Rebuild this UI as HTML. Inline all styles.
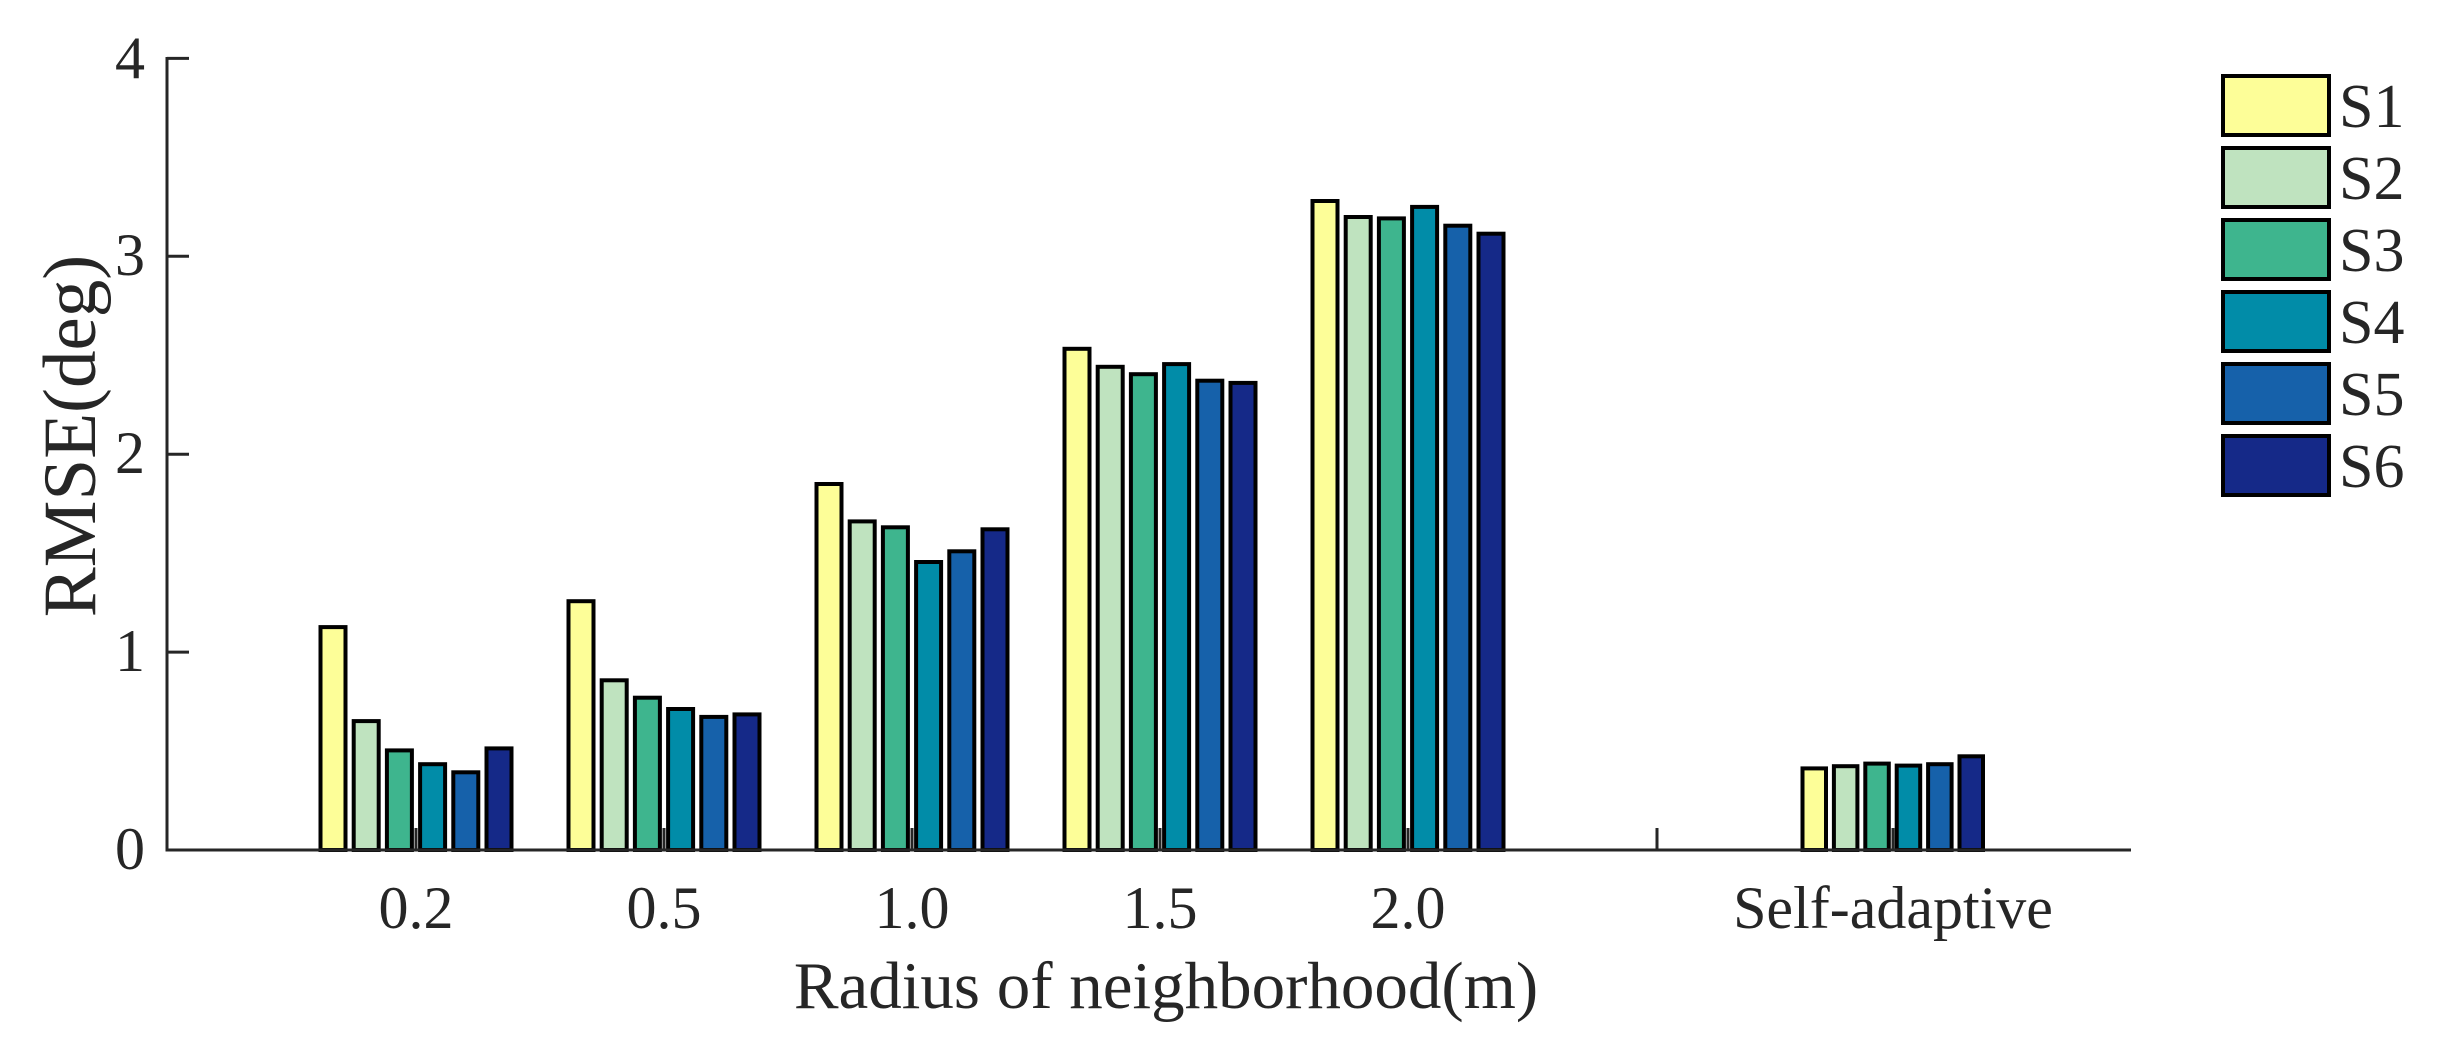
<!DOCTYPE html>
<html><head><meta charset="utf-8"><style>
html,body{margin:0;padding:0;background:#fff;}
svg{display:block;}
text{font-family:"Liberation Serif",serif;fill:#262626;}
</style></head><body>
<svg width="2443" height="1043" viewBox="0 0 2443 1043" xmlns="http://www.w3.org/2000/svg">
<g stroke="#262626" stroke-width="3">
<line x1="416" y1="850" x2="416" y2="828"/><line x1="664" y1="850" x2="664" y2="828"/>
<line x1="912" y1="850" x2="912" y2="828"/><line x1="1160" y1="850" x2="1160" y2="828"/>
<line x1="1408" y1="850" x2="1408" y2="828"/><line x1="1657" y1="850" x2="1657" y2="828"/>
<line x1="1893" y1="850" x2="1893" y2="828"/>
</g>
<g stroke="#000" stroke-width="4">
<rect x="320.5" y="627.1" width="25" height="222.9" fill="#fdfe98"/>
<rect x="353.7" y="721.1" width="25" height="128.9" fill="#bfe3bf"/>
<rect x="386.9" y="750.4" width="25" height="99.6" fill="#3eb58e"/>
<rect x="420.1" y="764.2" width="25" height="85.8" fill="#018ca8"/>
<rect x="453.3" y="772.3" width="25" height="77.7" fill="#1661aa"/>
<rect x="486.5" y="748.4" width="25" height="101.6" fill="#152988"/>

<rect x="568.5" y="601.2" width="25" height="248.8" fill="#fdfe98"/>
<rect x="601.7" y="680.3" width="25" height="169.7" fill="#bfe3bf"/>
<rect x="634.9" y="697.7" width="25" height="152.3" fill="#3eb58e"/>
<rect x="668.1" y="709" width="25" height="141" fill="#018ca8"/>
<rect x="701.3" y="716.9" width="25" height="133.1" fill="#1661aa"/>
<rect x="734.5" y="714.4" width="25" height="135.6" fill="#152988"/>

<rect x="816.5" y="484" width="25" height="366" fill="#fdfe98"/>
<rect x="849.7" y="521.4" width="25" height="328.6" fill="#bfe3bf"/>
<rect x="882.9" y="527.3" width="25" height="322.7" fill="#3eb58e"/>
<rect x="916.1" y="562" width="25" height="288" fill="#018ca8"/>
<rect x="949.3" y="551.3" width="25" height="298.7" fill="#1661aa"/>
<rect x="982.5" y="529.3" width="25" height="320.7" fill="#152988"/>

<rect x="1064.5" y="348.8" width="25" height="501.2" fill="#fdfe98"/>
<rect x="1097.7" y="366.8" width="25" height="483.2" fill="#bfe3bf"/>
<rect x="1130.9" y="374.2" width="25" height="475.8" fill="#3eb58e"/>
<rect x="1164.1" y="364.1" width="25" height="485.9" fill="#018ca8"/>
<rect x="1197.3" y="380.7" width="25" height="469.3" fill="#1661aa"/>
<rect x="1230.5" y="382.9" width="25" height="467.1" fill="#152988"/>

<rect x="1312.5" y="201" width="25" height="649" fill="#fdfe98"/>
<rect x="1345.7" y="217" width="25" height="633" fill="#bfe3bf"/>
<rect x="1378.9" y="218.4" width="25" height="631.6" fill="#3eb58e"/>
<rect x="1412.1" y="206.9" width="25" height="643.1" fill="#018ca8"/>
<rect x="1445.3" y="225.7" width="25" height="624.3" fill="#1661aa"/>
<rect x="1478.5" y="233.7" width="25" height="616.3" fill="#152988"/>

<rect x="1802.5" y="768.4" width="23.5" height="81.6" fill="#fdfe98"/>
<rect x="1833.9" y="766.2" width="23.5" height="83.8" fill="#bfe3bf"/>
<rect x="1865.3" y="763.6" width="23.5" height="86.4" fill="#3eb58e"/>
<rect x="1896.7" y="765.6" width="23.5" height="84.4" fill="#018ca8"/>
<rect x="1928.1" y="764.2" width="23.5" height="85.8" fill="#1661aa"/>
<rect x="1959.5" y="756.3" width="23.5" height="93.7" fill="#152988"/>

<rect x="2223" y="76" width="106" height="59" fill="#fdfe98"/>
<rect x="2223" y="148" width="106" height="59" fill="#bfe3bf"/>
<rect x="2223" y="220" width="106" height="59" fill="#3eb58e"/>
<rect x="2223" y="292" width="106" height="59" fill="#018ca8"/>
<rect x="2223" y="364" width="106" height="59" fill="#1661aa"/>
<rect x="2223" y="436" width="106" height="59" fill="#152988"/>
</g>
<g font-size="62">
<text x="2339" y="127">S1</text><text x="2339" y="199">S2</text><text x="2339" y="271">S3</text>
<text x="2339" y="343">S4</text><text x="2339" y="415">S5</text><text x="2339" y="487">S6</text>
</g>
<line x1="167" y1="850" x2="2131" y2="850" stroke="#262626" stroke-width="3"/>
<line x1="167" y1="57" x2="167" y2="851.5" stroke="#262626" stroke-width="3"/>
<g stroke="#262626" stroke-width="3">
<line x1="167" y1="850" x2="189" y2="850"/><line x1="167" y1="652.1" x2="189" y2="652.1"/>
<line x1="167" y1="454.2" x2="189" y2="454.2"/><line x1="167" y1="256.3" x2="189" y2="256.3"/>
<line x1="167" y1="58.4" x2="189" y2="58.4"/>
</g>
<g font-size="60" text-anchor="end">
<text x="145" y="869">0</text><text x="145" y="671">1</text><text x="145" y="473">2</text><text x="145" y="275">3</text><text x="145" y="78">4</text>
</g>
<g font-size="60" text-anchor="middle">
<text x="416" y="928">0.2</text><text x="664" y="928">0.5</text><text x="912" y="928">1.0</text><text x="1160" y="928">1.5</text><text x="1408" y="928">2.0</text><text x="1893" y="928">Self-adaptive</text>
</g>
<text x="1166" y="1008" font-size="67" text-anchor="middle">Radius of neighborhood(m)</text>
<text transform="translate(95,436) rotate(-90)" font-size="75" text-anchor="middle">RMSE(deg)</text>
</svg>
</body></html>
